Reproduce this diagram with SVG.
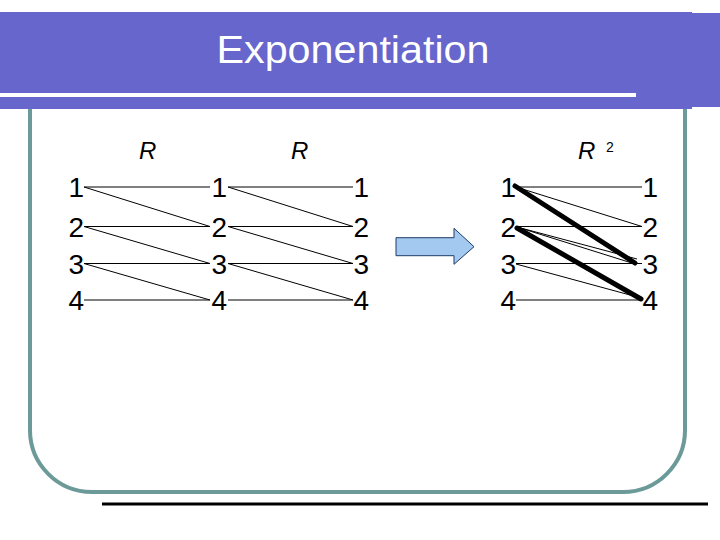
<svg xmlns="http://www.w3.org/2000/svg" width="720" height="540" viewBox="0 0 720 540">
<style>
.d{font-family:"Liberation Sans",Arial,sans-serif;font-size:28px;fill:#000;text-anchor:end}
.r{font-family:"Liberation Sans",Arial,sans-serif;font-size:24px;font-style:italic;fill:#000}
.t{stroke:#000;stroke-width:1;fill:none}
.k{stroke:#000;stroke-width:5;stroke-linecap:round;fill:none}
</style>
<rect x="0" y="0" width="720" height="540" fill="#fff"/>
<g id="frame">
<path d="M30,106 V430 A62,62 0 0 0 92,492 H623 A62,62 0 0 0 685,430 V106" fill="none" stroke="#6c9a98" stroke-width="4"/>
<line x1="102" y1="504" x2="708" y2="504" stroke="#000" stroke-width="3"/>
</g>
<g id="header">
<rect x="0" y="12" width="692" height="97" fill="#6666cc"/>
<rect x="636" y="13" width="84" height="94" fill="#6666cc"/>
<rect x="0" y="93" width="636" height="4" fill="#fff"/>
<text x="353" y="63" font-family="Liberation Sans,Arial,sans-serif" font-size="38" fill="#fff" text-anchor="middle" textLength="273" lengthAdjust="spacingAndGlyphs">Exponentiation</text>
</g>
<g id="connectors">
<line class="t" x1="84" y1="187" x2="210" y2="187"/>
<line class="t" x1="84" y1="226.5" x2="210" y2="226.5"/>
<line class="t" x1="84" y1="263.5" x2="210" y2="263.5"/>
<line class="t" x1="84" y1="300" x2="210" y2="300"/>
<line class="t" x1="84" y1="187" x2="210" y2="226.5"/>
<line class="t" x1="84" y1="226.5" x2="210" y2="263.5"/>
<line class="t" x1="84" y1="263.5" x2="210" y2="300"/>
<line class="t" x1="228" y1="187" x2="353" y2="187"/>
<line class="t" x1="228" y1="226.5" x2="353" y2="226.5"/>
<line class="t" x1="228" y1="263.5" x2="353" y2="263.5"/>
<line class="t" x1="228" y1="300" x2="353" y2="300"/>
<line class="t" x1="228" y1="187" x2="353" y2="226.5"/>
<line class="t" x1="228" y1="226.5" x2="353" y2="263.5"/>
<line class="t" x1="228" y1="263.5" x2="353" y2="300"/>
<line class="t" x1="516" y1="187" x2="642" y2="187"/>
<line class="t" x1="516" y1="226.5" x2="642" y2="226.5"/>
<line class="t" x1="516" y1="263.5" x2="642" y2="263.5"/>
<line class="t" x1="516" y1="300" x2="642" y2="300"/>
<line class="t" x1="516" y1="187" x2="642" y2="226.5"/>
<line class="t" x1="517" y1="227" x2="637" y2="259"/>
<line class="t" x1="517" y1="227" x2="635" y2="264"/>
<line class="t" x1="516" y1="264" x2="641" y2="298"/>
<line class="k" x1="515" y1="186" x2="635" y2="263"/>
<line class="k" x1="517" y1="228" x2="641" y2="299"/>
</g>
<g id="arrow">
<path d="M396,237.7 H454 V228.3 L474,246.7 L454,264.3 V255.7 H396 Z" fill="#a3c9f1" stroke="#1f3a66" stroke-width="1"/>
</g>
<g id="labels">
<text class="r" x="139" y="159">R</text>
<text class="r" x="291" y="159">R</text>
<text class="r" x="578" y="159">R</text>
<text x="606" y="152" font-family="Liberation Sans,Arial,sans-serif" font-size="14" fill="#000">2</text>
</g>
<g id="col-a">
<g id="a1"><text class="d" x="84" y="197">1</text></g>
<g id="a2"><text class="d" x="84" y="236.5">2</text></g>
<g id="a3"><text class="d" x="84" y="273.5">3</text></g>
<g id="a4"><text class="d" x="84" y="310">4</text></g>
</g>
<g id="col-b">
<g id="b1"><text class="d" x="227" y="197">1</text></g>
<g id="b2"><text class="d" x="227" y="236.5">2</text></g>
<g id="b3"><text class="d" x="227" y="273.5">3</text></g>
<g id="b4"><text class="d" x="227" y="310">4</text></g>
</g>
<g id="col-c">
<g id="c1"><text class="d" x="369" y="197">1</text></g>
<g id="c2"><text class="d" x="369" y="236.5">2</text></g>
<g id="c3"><text class="d" x="369" y="273.5">3</text></g>
<g id="c4"><text class="d" x="369" y="310">4</text></g>
</g>
<g id="col-d">
<g id="d1"><text class="d" x="516" y="197">1</text></g>
<g id="d2"><text class="d" x="516" y="236.5">2</text></g>
<g id="d3"><text class="d" x="516" y="273.5">3</text></g>
<g id="d4"><text class="d" x="516" y="310">4</text></g>
</g>
<g id="col-e">
<g id="e1"><text class="d" x="658" y="197">1</text></g>
<g id="e2"><text class="d" x="658" y="236.5">2</text></g>
<g id="e3"><text class="d" x="658" y="273.5">3</text></g>
<g id="e4"><text class="d" x="658" y="310">4</text></g>
</g>
</svg>
